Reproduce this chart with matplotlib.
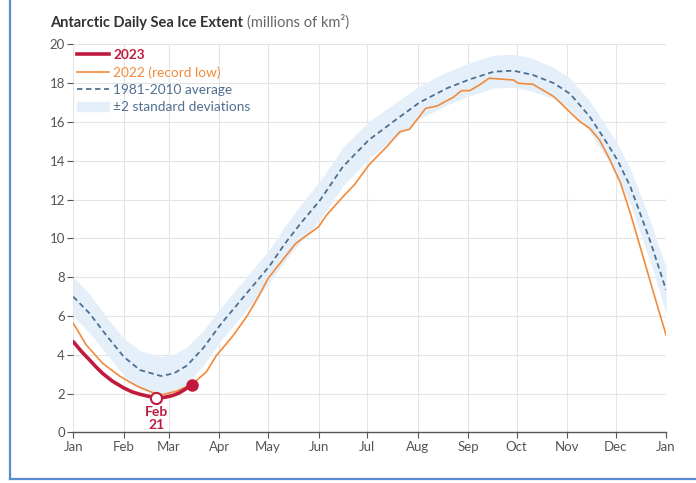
import matplotlib
matplotlib.use('Agg')
from matplotlib import pyplot as plt
from matplotlib.lines import Line2D
from matplotlib.patches import Patch

plt.rcParams['font.family'] = ['Lato', 'DejaVu Sans']

# day of year (0 = Jan 1, 365 = next Jan 1) and extent in millions of km2
month_days = [0, 31, 59, 90, 120, 151, 181, 212, 243, 273, 304, 334, 365]
month_labels = ['Jan', 'Feb', 'Mar', 'Apr', 'May', 'Jun', 'Jul', 'Aug',
                'Sep', 'Oct', 'Nov', 'Dec', 'Jan']

avg_days = [0, 10, 21, 31, 41, 54, 62, 70, 80, 91, 100, 110, 121, 130, 140,
            152, 166, 182, 197, 213, 230, 244, 259, 271, 283, 296, 306, 318,
            328, 335, 343, 349, 355, 361, 365]
avg_vals = [7.0, 6.14, 4.94, 3.91, 3.22, 2.91, 3.05, 3.45, 4.35, 5.6, 6.5,
            7.5, 8.6, 9.7, 10.78, 11.98, 13.7, 15.08, 16.02, 17.0, 17.74,
            18.2, 18.6, 18.65, 18.43, 18.0, 17.45, 16.28, 15.0, 14.05, 12.67,
            11.3, 9.92, 8.38, 7.35]
# half width of the +/-2 standard deviation band
sd2_vals = [1.0, 1.0, 0.95, 0.95, 1.0, 1.0, 1.0, 0.95, 0.9, 0.85, 0.85, 0.85,
            0.85, 0.9, 0.95, 1.0, 1.0, 0.95, 0.9, 0.85, 0.85, 0.85, 0.85, 0.85,
            0.85, 0.8, 0.8, 0.8, 0.8, 0.85, 0.9, 1.0, 1.05, 1.1, 1.2]

y2022_days = [0, 8, 18, 29, 39, 49, 55, 64, 74, 82, 88, 98, 107, 114, 120,
              137, 151, 156, 166, 173, 182, 193, 201, 207, 217, 224, 234, 239,
              244, 250, 256, 271, 274, 283, 296, 306, 312, 318, 324, 330, 337,
              343, 349, 355, 361, 365]
y2022_vals = [5.63, 4.51, 3.57, 2.88, 2.40, 2.05, 1.95, 2.14, 2.54, 3.13, 3.95,
              4.95, 6.0, 7.0, 7.95, 9.75, 10.6, 11.21, 12.15, 12.76, 13.79,
              14.73, 15.5, 15.63, 16.71, 16.83, 17.28, 17.62, 17.62, 17.91,
              18.26, 18.17, 18.0, 17.95, 17.31, 16.5, 16.02, 15.68, 15.08,
              14.13, 12.85, 11.3, 9.58, 7.86, 6.14, 5.03]

y2023_days = [0, 5, 10, 14, 18, 24, 31, 36, 41, 46, 51, 56, 61, 65, 68, 73]
y2023_vals = [4.68, 4.18, 3.74, 3.38, 3.05, 2.65, 2.3, 2.1, 1.97, 1.87, 1.80,
              1.81, 1.9, 2.03, 2.18, 2.45]

min_day = 51
min_val = 1.80

RED = '#c01b3f'
ORANGE = '#f28a3a'
AVG = '#4f6f8f'
BAND = '#e4eff9'
TXT = '#555555'

fig = plt.figure(figsize=(6.96, 4.83), dpi=100)
ax = fig.add_axes([0.1053, 0.1046, 0.957 - 0.1053, 0.9079 - 0.1046])

lo = [a - s for a, s in zip(avg_vals, sd2_vals)]
hi = [a + s for a, s in zip(avg_vals, sd2_vals)]
ax.fill_between(avg_days, lo, hi, color=BAND, lw=0, zorder=1)
ax.plot(avg_days, avg_vals, color=AVG, lw=1.3, ls=(0, (3.0, 2.0)), zorder=3)
ax.plot(y2022_days, y2022_vals, color=ORANGE, lw=1.2, zorder=4)
ax.plot(y2023_days, y2023_vals, color=RED, lw=2.6, solid_capstyle='round',
        solid_joinstyle='round', zorder=5)
ax.plot(y2023_days[-1], y2023_vals[-1], 'o', color=RED, ms=8, zorder=6)
ax.plot(min_day, min_val, 'o', mfc='white', mec=RED, mew=1.5, ms=8, zorder=7)
ax.annotate('Feb\n21', xy=(min_day, min_val), xytext=(0, -6),
            textcoords='offset points', ha='center', va='top', color=RED,
            fontsize=10, fontweight='bold', linespacing=1.1)

ax.set_xlim(0, 365)
ax.set_ylim(0, 20)
ax.set_xticks(month_days)
ax.set_xticklabels(month_labels)
ax.set_yticks(range(0, 21, 2))
ax.grid(True, color='#e4e4e4', lw=0.8, zorder=0)
ax.set_axisbelow(True)
for side in ['left', 'right', 'top']:
    ax.spines[side].set_visible(False)
ax.spines['bottom'].set_color('#555555')
ax.spines['bottom'].set_linewidth(1.0)
ax.tick_params(axis='both', colors='#555555', labelcolor=TXT, labelsize=9.5,
               length=4, width=0.8, pad=2)

handles = [Line2D([], [], color=RED, lw=2.6),
           Line2D([], [], color=ORANGE, lw=1.2),
           Line2D([], [], color=AVG, lw=1.3, ls=(0, (3.0, 2.0))),
           Patch(color=BAND)]
labels = ['2023', '2022 (record low)', '1981-2010 average',
          '\u00b12 standard deviations']
leg = ax.legend(handles, labels, loc='upper left', bbox_to_anchor=(0.0, 1.0),
                frameon=False, fontsize=9.8, handlelength=2.35,
                handletextpad=0.3, labelspacing=0.4, borderaxespad=0.0,
                borderpad=0.3)
for t, c in zip(leg.get_texts(), [RED, ORANGE, AVG, AVG]):
    t.set_color(c)
leg.get_texts()[0].set_fontweight('bold')

t1 = fig.text(50 / 696, 1 - 23 / 483, 'Antarctic Daily Sea Ice Extent',
              fontsize=10.5, fontweight='bold', color='#333333', va='center')
ax.annotate('(millions of km\u00b2)', xy=(1, 0), xycoords=t1, xytext=(3, 0),
            textcoords='offset points', fontsize=10.5, color='#666666',
            va='bottom', annotation_clip=False)

# outer frame
fig.add_artist(Line2D([10 / 696, 10 / 696], [1.0, 1 - 479 / 483],
                      transform=fig.transFigure, color='#5a8bd0', lw=1.6))
fig.add_artist(Line2D([10 / 696, 1.0], [1 - 479 / 483, 1 - 479 / 483],
                      transform=fig.transFigure, color='#5a8bd0', lw=1.6))

fig.savefig('out.png', dpi=100)
